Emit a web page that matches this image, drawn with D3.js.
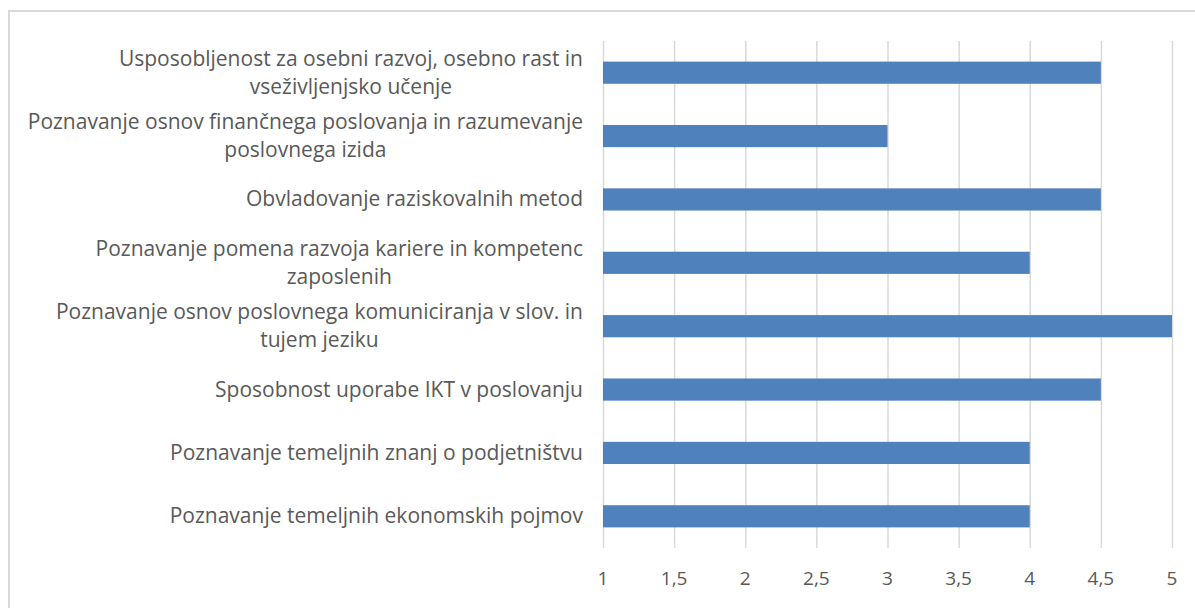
<!DOCTYPE html>
<html lang="sl">
<head>
<meta charset="utf-8">
<title>Kompetence</title>
<script src="https://d3js.org/d3.v7.min.js"></script>
<style>
body{
  margin: 0;
  background: #fff;
}
#chart text{
  font-family: "Open Sans", sans-serif;
  fill: #595959;
}
.grid line{
  stroke: #d9d9d9;
  stroke-width: 1.5;
}
.grid path{ display: none; }
</style>
</head>
<body>
<svg id="chart" width="1195" height="608"></svg>
<script>
// categories, top to bottom (\n = line break in the label)
var categories = [
  "Usposobljenost za osebni razvoj, osebno rast in\nvseživljenjsko učenje",
  "Poznavanje osnov finančnega poslovanja in razumevanje\nposlovnega izida",
  "Obvladovanje raziskovalnih metod",
  "Poznavanje pomena razvoja kariere in kompetenc\nzaposlenih",
  "Poznavanje osnov poslovnega komuniciranja v slov. in\ntujem jeziku",
  "Sposobnost uporabe IKT v poslovanju",
  "Poznavanje temeljnih znanj o podjetništvu",
  "Poznavanje temeljnih ekonomskih pojmov"
];
var values = [4.5, 3, 4.5, 4, 5, 4.5, 4, 4];
var ticks = [1, 1.5, 2, 2.5, 3, 3.5, 4, 4.5, 5];

var svg = d3.select('#chart');

// outer chart border
svg.append('rect')
  .attr('x', 9).attr('y', 11)
  .attr('width', 1300).attr('height', 700)
  .attr('fill', 'none')
  .attr('stroke', '#d9d9d9')
  .attr('stroke-width', 2);

var plotL = 603, plotR = 1172, plotT = 41, plotB = 548;

var x = d3.scaleLinear().domain([1, 5]).range([plotL, plotR]);
var y = d3.scaleBand().domain(d3.range(categories.length)).range([plotT, plotB]).paddingInner(0.65).paddingOuter(0.325);

// vertical gridlines
svg.append('g')
  .attr('class', 'grid')
  .attr('transform', 'translate(0,' + plotB + ')')
  .call(d3.axisBottom(x).tickValues(ticks).tickSize(-(plotB - plotT)).tickFormat(''));

// bars
svg.selectAll('.bar')
  .data(values)
  .enter().append('rect')
    .attr('class', 'bar')
    .attr('x', x(1))
    .attr('y', function(d, i) { return y(i); })
    .attr('width', function(d) { return x(d) - x(1); })
    .attr('height', y.bandwidth())
    .attr('fill', '#4f81bd');

// x tick labels
var fmt = function(d) { return String(d).replace('.', ','); };
svg.append('g')
  .selectAll('text')
  .data(ticks)
  .enter().append('text')
    .attr('x', function(d) { return x(d); })
    .attr('y', 585)
    .attr('text-anchor', 'middle')
    .attr('font-size', '19px')
    .text(fmt);

// category labels, right aligned, wrapped lines centred on each other
var lineH = 28, labelRight = 583;
categories.forEach(function(c, i) {
  var lines = c.split('\n');
  var cy = y(i) + y.bandwidth() / 2;
  var g = svg.append('g');
  var texts = lines.map(function(l, k) {
    return g.append('text')
      .attr('y', cy + (k - (lines.length - 1) / 2) * lineH + 7)
      .attr('font-size', '21px')
      .attr('text-anchor', 'middle')
      .text(l);
  });
  var w = d3.max(texts, function(t) { return t.node().getComputedTextLength(); });
  texts.forEach(function(t) { t.attr('x', labelRight - w / 2); });
});
</script>
</body>
</html>
